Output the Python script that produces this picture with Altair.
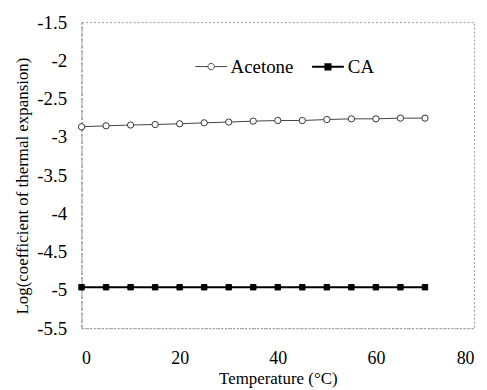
import altair as alt
import pandas as pd

temperature = [0, 5, 10, 15, 20, 25, 30, 35, 40, 45, 50, 55, 60, 65, 70]
acetone = [-2.868, -2.855, -2.845, -2.838, -2.829, -2.816, -2.806, -2.794,
           -2.786, -2.786, -2.773, -2.764, -2.764, -2.755, -2.755]
ca = [-4.965, -4.965, -4.965, -4.965, -4.965, -4.965, -4.965, -4.965,
      -4.965, -4.965, -4.965, -4.965, -4.965, -4.965, -4.965]
series_names = ["Acetone", "CA"]
y_ticks = [-5.5, -5, -4.5, -4, -3.5, -3, -2.5, -2, -1.5]
x_ticks = [0, 20, 40, 60, 80]

rows = []
for name, vals in zip(series_names, [acetone, ca]):
    for t, v in zip(temperature, vals):
        rows.append({"series": name, "temp": t, "value": v})
df = pd.DataFrame(rows)

FONT = "Times New Roman"
ACE_PATH = ("M-1,0L-0.2,0M0.2,0A0.2,0.2,0,1,1,-0.2,0A0.2,0.2,0,1,1,0.2,0Z"
            "M0.2,0L1,0")
CA_PATH = "M-1,0L1,0M-0.16,-0.16L0.16,-0.16L0.16,0.16L-0.16,0.16Z"

x = alt.X("temp:Q", scale=alt.Scale(domain=[0, 80], nice=False),
          axis=alt.Axis(values=x_ticks, title="Temperature (°C)", grid=False,
                        ticks=False, labelPadding=22, labelFont=FONT,
                        labelFontSize=18, labelColor="black",
                        titleFont=FONT, titleFontSize=17, titleFontWeight="normal",
                        titleColor="black", titleY=51, titleBaseline="middle",
                        domainColor="#888", domainDash=[1, 2]))
y = alt.Y("value:Q", scale=alt.Scale(domain=[-5.5, -1.5], nice=False),
          axis=alt.Axis(values=y_ticks,
                        labelExpr="replace(format(datum.value, '~g'), '\u2212', '-')",
                        grid=False, ticks=False, title=None,
                        labelPadding=15, labelFont=FONT, labelFontSize=19,
                        labelColor="black",
                        domainColor="#888", domainDash=[4, 2]))

stroke = alt.Stroke("series:N", scale=alt.Scale(domain=series_names,
                                                  range=["#444444", "#000000"]),
                    title=None)
stroke_w = alt.StrokeWidth("series:N", scale=alt.Scale(domain=series_names, range=[1, 2]),
                           title=None)
base = alt.Chart(df)
lines = base.mark_line().encode(x=x, y=y, stroke=stroke, strokeWidth=stroke_w)

ace_pts = base.transform_filter(alt.datum.series == "Acetone").mark_point(
    shape="circle", size=40, filled=False, fill="white", stroke="#333333",
    strokeWidth=1, opacity=1
).encode(x=x, y=y)
ca_pts = base.transform_filter(alt.datum.series == "CA").mark_point(
    shape="square", size=30, filled=True, fill="black", stroke="black",
    strokeWidth=1, opacity=1
).encode(x=x, y=y)

# legend-only layer: draws no data marks, supplies the legend symbols
legend_layer = base.transform_filter(alt.datum.temp < -1000).mark_point(
    size=1024, opacity=1, strokeWidth=1.2
).encode(
    x=x, y=y, stroke=stroke, strokeWidth=stroke_w,
    fill=alt.Fill("series:N", scale=alt.Scale(domain=series_names,
                                              range=["#ffffff", "#000000"]), title=None),
    shape=alt.Shape("series:N", scale=alt.Scale(domain=series_names,
                                                range=[ACE_PATH, CA_PATH]), title=None),
)

chart = alt.layer(lines, ace_pts, ca_pts, legend_layer).properties(
    width=395, height=308,
    title=alt.TitleParams(text="Log(coefficient of thermal expansion)", orient="left",
                          anchor="middle", font=FONT, fontSize=17, fontWeight="normal",
                          color="black", offset=8, dx=-11, dy=3),
    autosize=alt.AutoSizeParams(type="none"),
    padding={"left": 74, "top": 13, "right": 5, "bottom": 61},
).configure(font=FONT).configure_view(
    stroke="#999", strokeDash=[2, 2], strokeWidth=1
).configure_legend(
    orient="none", legendX=114, legendY=28, direction="horizontal",
    labelFont=FONT, labelFontSize=19, labelColor="black", symbolSize=1024,
    columnPadding=14, labelOffset=3, padding=0
)

chart.save("out.html", embed_options={"renderer": "svg", "actions": False})
